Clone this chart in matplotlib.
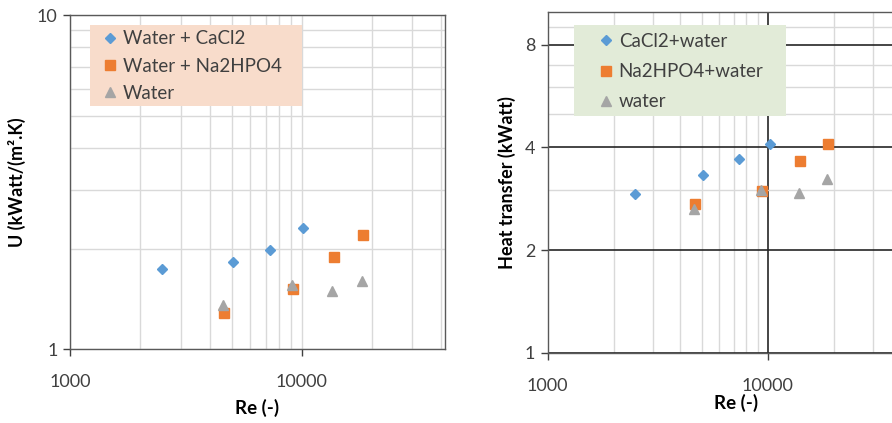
import matplotlib
matplotlib.use("Agg")
import matplotlib.pyplot as plt
from matplotlib.ticker import FixedLocator, NullFormatter, FixedFormatter
from matplotlib.patches import Rectangle

plt.rcParams['font.family'] = ['Lato', 'DejaVu Sans']

# ---- Left chart data: U (kWatt/(m2.K)) vs Re ----
re_cacl2_u = [2490, 5070, 7300, 10160]
u_cacl2 = [1.74, 1.83, 1.98, 2.30]
re_na_u = [4620, 9200, 13830, 18340]
u_na = [1.28, 1.52, 1.89, 2.20]
re_w_u = [4560, 9100, 13500, 18150]
u_w = [1.36, 1.56, 1.49, 1.60]

# ---- Right chart data: Heat transfer (kWatt) vs Re ----
re_cacl2_q = [2500, 5065, 7380, 10240]
q_cacl2 = [2.92, 3.31, 3.70, 4.10]
re_na_q = [4690, 9390, 14020, 18850]
q_na = [2.73, 2.98, 3.64, 4.10]
re_w_q = [4620, 9330, 13830, 18550]
q_w = [2.64, 3.01, 2.94, 3.23]

left_labels = ["Water + CaCl2", "Water + Na2HPO4", "Water"]
right_labels = ["CaCl2+water", "Na2HPO4+water", "water"]

BLUE = '#5b9bd5'
ORANGE = '#ed7d31'
GREY = '#a5a5a5'
TICKC = '#404040'

W, H = 892, 423
fig = plt.figure(figsize=(W/100, H/100), dpi=100)

L1 = (70, 445, 15, 349.3)       # px: left, right, top, bottom
L2 = (547.7, 900, 11.7, 352.7)
ax1 = fig.add_axes([L1[0]/W, 1-L1[3]/H, (L1[1]-L1[0])/W, (L1[3]-L1[2])/H])
ax2 = fig.add_axes([L2[0]/W, 1-L2[3]/H, (L2[1]-L2[0])/W, (L2[3]-L2[2])/H])

minor_x = [2000, 3000, 4000, 5000, 6000, 7000, 8000, 9000, 20000, 30000, 40000]

def px_to_axes(L, x, y):
    return ((x-L[0])/(L[1]-L[0]), (L[3]-y)/(L[3]-L[2]))

def style(ax):
    ax.set_xscale('log')
    ax.set_yscale('log')
    ax.xaxis.set_major_locator(FixedLocator([1000, 10000]))
    ax.xaxis.set_major_formatter(FixedFormatter(['1000', '10000']))
    ax.xaxis.set_minor_locator(FixedLocator(minor_x))
    ax.xaxis.set_minor_formatter(NullFormatter())
    ax.tick_params(which='minor', length=0)
    ax.tick_params(which='major', length=5, width=1, color='#404040',
                   labelsize=13, labelcolor=TICKC)
    ax.tick_params(axis='x', pad=13)
    ax.tick_params(axis='y', pad=4)
    ax.set_axisbelow(True)
    for s in ax.spines.values():
        s.set_color('#595959')
        s.set_linewidth(1)

def legend_box(ax, L, x0, x1, y0, y1, color):
    ax0, ay0 = px_to_axes(L, x0, y1)
    ax1_, ay1 = px_to_axes(L, x1, y0)
    ax.add_patch(Rectangle((ax0, ay0), ax1_-ax0, ay1-ay0, transform=ax.transAxes,
                           facecolor=color, edgecolor='none', zorder=4))

# Left
style(ax1)
ax1.set_xlim(1000, 41500)
ax1.set_ylim(1, 10)
ax1.yaxis.set_major_locator(FixedLocator([1, 10]))
ax1.yaxis.set_major_formatter(FixedFormatter(['1', '10']))
ax1.yaxis.set_minor_locator(FixedLocator([2, 3, 4, 5, 6, 7, 8, 9]))
ax1.yaxis.set_minor_formatter(NullFormatter())
ax1.grid(True, which='both', color='#d9d9d9', linewidth=1)
ax1.plot(re_cacl2_u, u_cacl2, 'D', color=BLUE, ms=5.2, mec=BLUE, label=left_labels[0])
ax1.plot(re_na_u, u_na, 's', color=ORANGE, ms=7, mec=ORANGE, label=left_labels[1])
ax1.plot(re_w_u, u_w, '^', color=GREY, ms=7, mec=GREY, label=left_labels[2])
ax1.set_xlabel('Re (-)', fontsize=13.5, fontweight='bold', labelpad=6)
ax1.set_ylabel('U (kWatt/(m\u00b2.K)', fontsize=13, fontweight='bold', labelpad=8)
legend_box(ax1, L1, 90, 302, 25, 106, '#f8dccb')
leg1 = ax1.legend(loc='upper left', bbox_to_anchor=px_to_axes(L1, 103, 30.5), borderaxespad=0,
                  frameon=False, fontsize=13.5, handlelength=0.7, handletextpad=0.35,
                  labelspacing=0.54, borderpad=0, labelcolor='#404040')
leg1.set_zorder(5)

# Right
style(ax2)
ax2.set_xlim(1000, 39900)
ax2.set_ylim(1, 10)
ax2.yaxis.set_major_locator(FixedLocator([1, 2, 4, 8]))
ax2.yaxis.set_major_formatter(FixedFormatter(['1', '2', '4', '8']))
ax2.yaxis.set_minor_locator(FixedLocator([3, 5, 6, 7, 9]))
ax2.yaxis.set_minor_formatter(NullFormatter())
ax2.grid(True, which='minor', color='#d9d9d9', linewidth=1)
ax2.grid(True, which='major', color='#262626', linewidth=1.2)
ax2.spines['right'].set_visible(False)
ax2.plot(re_cacl2_q, q_cacl2, 'D', color=BLUE, ms=5.2, mec=BLUE, label=right_labels[0])
ax2.plot(re_na_q, q_na, 's', color=ORANGE, ms=7, mec=ORANGE, label=right_labels[1])
ax2.plot(re_w_q, q_w, '^', color=GREY, ms=7, mec=GREY, label=right_labels[2])
ax2.set_xlabel('Re (-)', fontsize=13.5, fontweight='bold')
ax2.xaxis.set_label_coords(px_to_axes(L2, 736, 0)[0], px_to_axes(L2, 0, 394)[1])
ax2.set_ylabel('Heat transfer (kWatt)', fontsize=13, fontweight='bold', labelpad=6)
legend_box(ax2, L2, 574, 786, 25, 116, '#e2ebd8')
leg2 = ax2.legend(loc='upper left', bbox_to_anchor=px_to_axes(L2, 599, 33), borderaxespad=0,
                  frameon=False, fontsize=13.5, handlelength=0.7, handletextpad=0.35,
                  labelspacing=0.70, borderpad=0, labelcolor='#404040')
leg2.set_zorder(5)

fig.savefig('out.png', dpi=100)
